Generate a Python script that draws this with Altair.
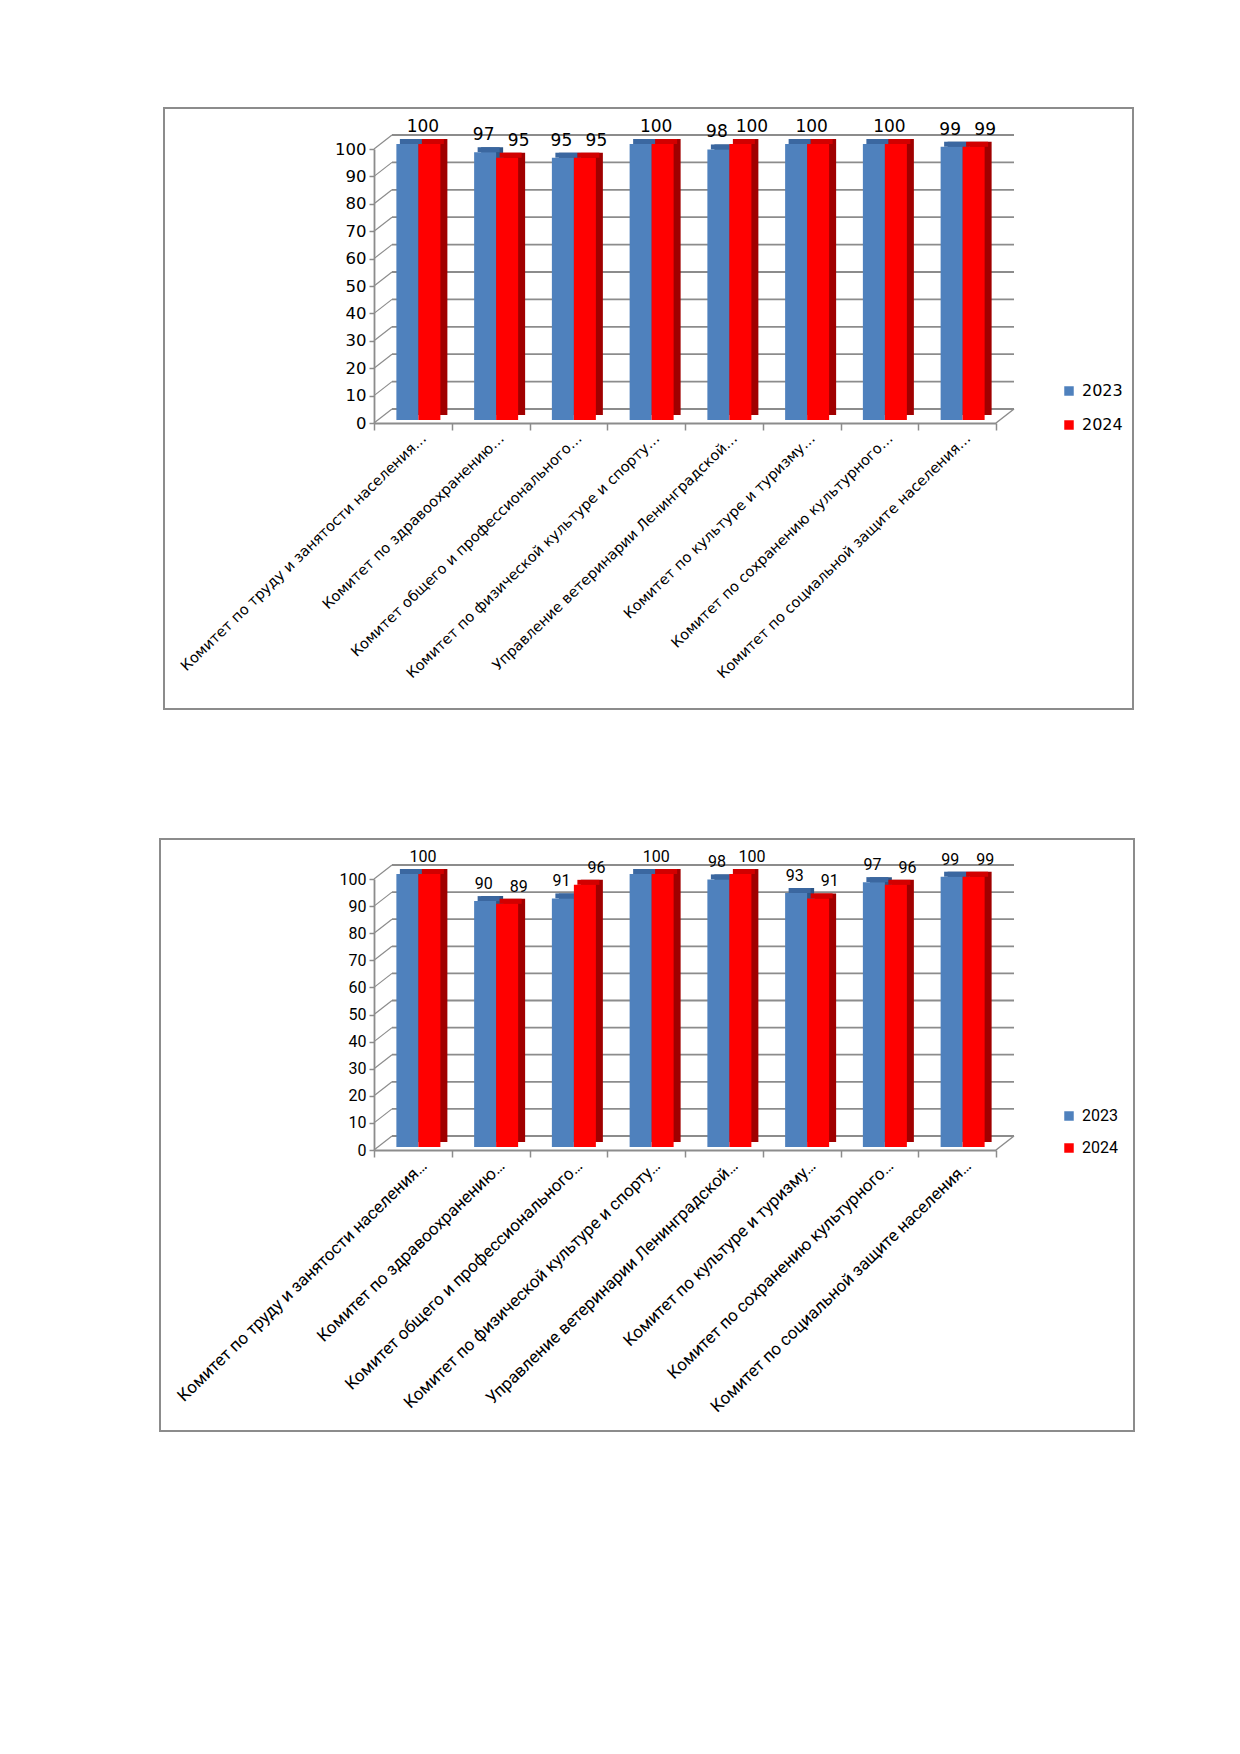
import altair as alt
import pandas as pd

# ---------------- data ----------------
categories = [
    "Комитет по труду и занятости населения…",
    "Комитет по здравоохранению…",
    "Комитет общего и профессионального…",
    "Комитет по физической культуре и спорту…",
    "Управление ветеринарии Ленинградской…",
    "Комитет по культуре и туризму…",
    "Комитет по сохранению культурного…",
    "Комитет по социальной защите населения…",
]
years = ["2023", "2024"]
top_2023 = [100, 97, 95, 100, 98, 100, 100, 99]
top_2024 = [100, 95, 95, 100, 100, 100, 100, 99]
bottom_2023 = [100, 90, 91, 100, 98, 93, 97, 99]
bottom_2024 = [100, 89, 96, 100, 100, 91, 96, 99]
y_ticks = list(range(0, 101, 10))

# ---------------- styles ----------------
BLUE, RED = "#4F81BD", "#FF0000"
BLUE_SIDE, RED_SIDE = "#2E5686", "#A00000"
BLUE_TOP, RED_TOP = "#3B67A0", "#D20000"
GRID = "#8C8C8C"
DX, DY = 18, -14          # depth of the pseudo-3D box
BAR_W = 22
OFFS = {"2023": -5.5, "2024": 16.5}
FRONT = {"2023": BLUE, "2024": RED}
SIDE = {"2023": BLUE_SIDE, "2024": RED_SIDE}
TOPC = {"2023": BLUE_TOP, "2024": RED_TOP}


def long_df(v23, v24):
    rows = []
    for c, a, b in zip(categories, v23, v24):
        rows.append({"cat": c, "year": "2023", "value": a})
        rows.append({"cat": c, "year": "2024", "value": b})
    return pd.DataFrame(rows)


def panel(v23, v24, W, H, font, ysize, xsize, tsize, frame, legend_y, row_pad):
    df = long_df(v23, v24)
    ticks = pd.DataFrame({"t": y_ticks})
    one = pd.DataFrame({"t": [0]})

    xs = alt.Scale(domain=categories, paddingInner=0, paddingOuter=0)
    ys = alt.Scale(domain=[0, 100], nice=False, zero=True)
    x_axis = alt.Axis(
        title=None, labelAngle=-44, labelAlign="right", labelBaseline="middle",
        labelFont=font, labelFontSize=xsize, labelColor="#000000",
        labelOffset=11, labelPadding=6, labelLimit=500,
        tickBand="extent", tickSize=7, tickColor=GRID, tickWidth=1.5,
        domainColor=GRID, domainWidth=1.8, grid=False,
    )
    y_axis = alt.Axis(
        title=None, values=y_ticks, labelFont=font, labelFontSize=ysize,
        labelColor="#000000", tickSize=5, tickColor=GRID, tickWidth=1.5,
        domainColor=GRID, domainWidth=1.8, labelPadding=3, grid=False,
    )
    x_enc = alt.X("cat:N", sort=categories, scale=xs, axis=x_axis)

    legend = alt.Legend(
        title=None, orient="none", legendX=687, legendY=legend_y,
        symbolType="square", symbolSize=90, symbolStrokeWidth=0,
        labelFont=font, labelFontSize=16, labelColor="#000000",
        rowPadding=row_pad, labelOffset=5, padding=0,
    )
    color_scale = alt.Scale(domain=years, range=[BLUE, RED])

    fx1, fx2, fy1, fy2 = frame
    frame_layer = alt.Chart(one).mark_rect(
        fillOpacity=0, stroke=GRID, strokeWidth=2
    ).encode(x=alt.value(fx1), x2=alt.value(fx2), y=alt.value(fy1), y2=alt.value(fy2))

    back_grid = alt.Chart(ticks).mark_rule(color=GRID, strokeWidth=1.8, yOffset=DY).encode(
        y=alt.Y("t:Q", scale=ys, axis=y_axis),
        x=alt.value(DX), x2=alt.value(W + DX),
    )
    wall_ticks = alt.Chart(ticks).mark_rule(color=GRID, strokeWidth=1.2, y2Offset=DY).encode(
        y=alt.Y("t:Q", scale=ys, axis=y_axis), y2=alt.Y2("t"),
        x=alt.value(0), x2=alt.value(DX),
    )
    floor_edge = alt.Chart(one).mark_rule(color=GRID, strokeWidth=1.5, y2Offset=DY).encode(
        y=alt.Y("t:Q", scale=ys, axis=y_axis), y2=alt.Y2("t"),
        x=alt.value(W), x2=alt.value(W + DX),
    )

    layers = [frame_layer, back_grid, wall_ticks, floor_edge]
    for yr in years:
        base = alt.Chart(df).transform_filter(f"datum.year == '{yr}'")
        side = base.mark_bar(
            width=BAR_W, xOffset=OFFS[yr] + 7, yOffset=-10, y2Offset=-8, color=SIDE[yr]
        ).encode(x=x_enc, y=alt.Y("value:Q", scale=ys, axis=y_axis), y2=alt.datum(0))
        topf = base.mark_bar(
            width=BAR_W, xOffset=OFFS[yr] + 3.5, yOffset=-10, y2Offset=-5, color=TOPC[yr]
        ).encode(x=x_enc, y=alt.Y("value:Q", scale=ys, axis=y_axis), y2=alt.Y2("value"))
        front = base.mark_bar(
            width=BAR_W, xOffset=OFFS[yr], yOffset=-5, y2Offset=-3
        ).encode(
            x=x_enc,
            y=alt.Y("value:Q", scale=ys, axis=y_axis),
            y2=alt.datum(0),
            color=alt.Color("year:N", scale=color_scale, legend=legend),
        )
        layers += [side, topf, front]

    tbase = alt.Chart(df).transform_joinaggregate(
        vmin="min(value)", vmax="max(value)", groupby=["cat"]
    ).transform_calculate(merged="datum.vmin == datum.vmax && datum.vmin >= 100")

    def txt(filt, dx):
        return tbase.transform_filter(filt).mark_text(
            dx=dx, dy=-22, font=font, fontSize=tsize, color="#000000",
            align="center", baseline="middle",
        ).encode(x=x_enc, y=alt.Y("value:Q", scale=ys, axis=y_axis), text=alt.Text("value:Q", format="d"))

    layers += [
        txt("datum.merged && datum.year == '2023'", 10),
        txt("!datum.merged && datum.year == '2023'", -7),
        txt("!datum.merged && datum.year == '2024'", 28),
    ]
    return alt.layer(*layers).properties(width=W, height=H)


top = panel(top_2023, top_2024, 622, 274, "DejaVu Sans", 16.5, 14.5, 17,
            (-210, 759, -41, 560), 234, 18)
bottom = panel(bottom_2023, bottom_2024, 622, 271, "Roboto", 16, 17, 16,
               (-214, 760, -40, 552), 229, 16)

chart = alt.vconcat(top, bottom, spacing=456, bounds="flush").resolve_scale(
    color="independent"
).resolve_legend(color="independent").properties(
    padding={"left": 151, "top": 99, "right": 5, "bottom": 5}
).configure_view(stroke=None)

chart.save("out.html", embed_options={"renderer": "svg", "actions": False})
